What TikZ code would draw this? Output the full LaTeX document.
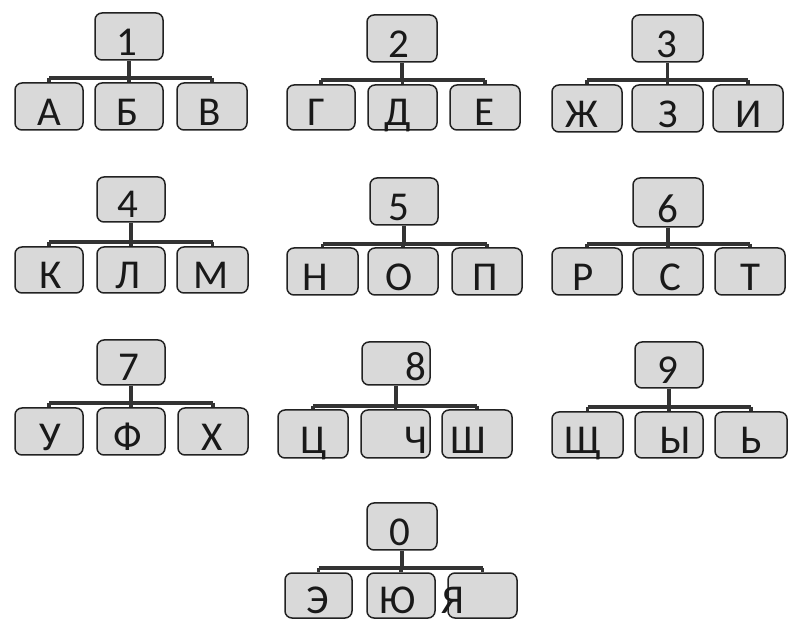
\documentclass[tikz,border=0pt]{standalone}
\usepackage{fontspec}
\setmainfont{Carlito}
\usetikzlibrary{calc}
\definecolor{boxfill}{HTML}{D9D9D9}
\definecolor{boxline}{HTML}{222222}
\definecolor{connc}{HTML}{333333}
\tikzset{
  box/.style={draw=boxline, fill=boxfill, rounded corners=7pt, line width=1.5pt, inner sep=0pt},
  lbl/.style={anchor=base, inner sep=0pt, font=\fontsize{41}{44}\selectfont, text=black!90},
  conn/.style={draw=connc, line width=3.6pt}
}
% name, x1, x2, ytop, ybot, text, textx  (pixel units, y downward)
\newcommand\tbox[7]{%
  \node[box, minimum width={(#3-#2)*1pt}, minimum height={(#5-#4)*1pt}] (#1) at ({(#2+#3)/2*1pt},{(630-(#4+#5)/2)*1pt}) {};
  \node[lbl] (#1l) at ({#7*1pt},{(630-#5+4.5)*1pt}) {#6};}
% top, a, b, c, bar y
\newcommand\tconn[5]{%
  \path let \p1=(#1.south) in coordinate (#1bar) at (\x1,{(630-#5)*1pt});
  \draw[conn] (#1.south) -- (#1bar);
  \draw[conn] (#2.north |- #1bar) -- (#4.north |- #1bar);
  \draw[conn] (#2.north |- #1bar) -- (#2.north);
  \draw[conn] (#3.north |- #1bar) -- (#3.north);
  \draw[conn] (#4.north |- #1bar) -- (#4.north);}
\begin{document}
\begin{tikzpicture}
\fill[white] (0,0) rectangle (788pt,630pt);
\useasboundingbox (0,0) rectangle (788pt,630pt);
% group 1
\tbox{t1}{95}{163}{13}{60}{1}{127}
\tbox{a1}{15}{83}{83}{130}{А}{49}
\tbox{b1}{95}{163}{83}{130}{Б}{128}
\tbox{c1}{177}{247}{83}{130}{В}{210}
\tconn{t1}{a1}{b1}{c1}{78}
% group 2
\tbox{t2}{367}{437}{15}{62}{2}{399}
\tbox{a2}{287}{355}{85}{130}{Г}{316}
\tbox{b2}{368}{437}{85}{130}{Д}{398}
\tbox{c2}{450}{520}{85}{130}{Е}{485}
\tconn{t2}{a2}{b2}{c2}{80}
% group 3
\tbox{t3}{632}{703}{15}{62}{3}{667}
\tbox{a3}{552}{622}{85}{132}{Ж}{582}
\tbox{b3}{632}{703}{85}{132}{З}{668}
\tbox{c3}{713}{783}{85}{132}{И}{749}
\tconn{t3}{a3}{b3}{c3}{80}
% group 4
\tbox{t4}{97}{165}{177}{222}{4}{128}
\tbox{a4}{15}{83}{247}{293}{К}{51}
\tbox{b4}{97}{165}{247}{293}{Л}{128}
\tbox{c4}{177}{248}{247}{293}{М}{211}
\tconn{t4}{a4}{b4}{c4}{242}
% group 5
\tbox{t5}{370}{438}{178}{225}{5}{399}
\tbox{a5}{287}{358}{248}{295}{Н}{315}
\tbox{b5}{368}{438}{248}{295}{О}{399}
\tbox{c5}{452}{522}{248}{295}{П}{485}
\tconn{t5}{a5}{b5}{c5}{244}
% group 6
\tbox{t6}{633}{703}{178}{227}{6}{668}
\tbox{a6}{552}{622}{248}{295}{Р}{583}
\tbox{b6}{633}{703}{248}{295}{С}{670}
\tbox{c6}{715}{785}{248}{295}{Т}{750}
\tconn{t6}{a6}{b6}{c6}{244}
% group 7
\tbox{t7}{97}{165}{340}{385}{7}{129}
\tbox{a7}{15}{83}{408}{455}{У}{50}
\tbox{b7}{97}{165}{408}{455}{Ф}{128}
\tbox{c7}{178}{248}{408}{455}{Х}{212}
\tconn{t7}{a7}{b7}{c7}{403}
% group 8
\tbox{t8}{362}{430}{342}{385}{8}{416}
\tbox{a8}{278}{348}{410}{458}{Ц}{314}
\tbox{b8}{361}{430}{410}{458}{Ч}{416}
\tbox{c8}{442}{512}{410}{458}{Ш}{468}
\tconn{t8}{a8}{b8}{c8}{406}
% group 9
\tbox{t9}{635}{703}{342}{388}{9}{668}
\tbox{a9}{552}{623}{412}{458}{Щ}{583}
\tbox{b9}{635}{703}{412}{458}{Ы}{675}
\tbox{c9}{715}{787}{412}{458}{Ь}{751}
\tconn{t9}{a9}{b9}{c9}{407}
% group 0
\tbox{t0}{367}{437}{503}{550}{0}{400}
\tbox{a0}{285}{352}{573}{618}{Э}{318}
\tbox{b0}{367}{435}{573}{618}{Ю}{398}
\tbox{c0}{448}{517}{573}{618}{}{483}
\node[lbl] (c0x) at (453pt,{(630-618+4.5)*1pt}) {Я};
\tconn{t0}{a0}{b0}{c0}{568}
\end{tikzpicture}
\end{document}
